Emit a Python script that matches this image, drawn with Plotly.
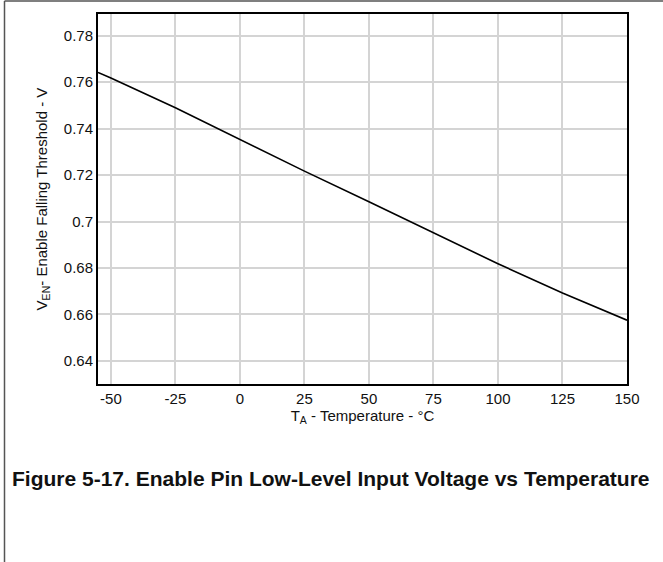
import plotly.graph_objects as go

temps = [-55, -50, -25, 0, 25, 50, 75, 100, 125, 150]
v_en_fall = [0.7642, 0.7618, 0.749, 0.7354, 0.7217, 0.7085, 0.695, 0.6818, 0.6692, 0.6575]

x_ticks = [-50, -25, 0, 25, 50, 75, 100, 125, 150]
x_tick_labels = ["-50", "-25", "0", "25", "50", "75", "100", "125", "150"]
y_ticks = [0.64, 0.66, 0.68, 0.70, 0.72, 0.74, 0.76, 0.78]
y_tick_labels = ["0.64", "0.66", "0.68", "0.7", "0.72", "0.74", "0.76", "0.78"]

W, H = 663, 562
L, R, T, B = 98, 627, 14, 384

def px(x):
    return (x - L) / (R - L)

def py(y):
    return (B - y) / (B - T)

fig = go.Figure()
fig.add_trace(go.Scatter(x=temps, y=v_en_fall, mode="lines",
                         line=dict(color="black", width=1.6), showlegend=False,
                         hoverinfo="skip"))

font_main = "Liberation Sans, Arial, sans-serif"
axis_common = dict(showgrid=True, gridcolor="#d4d4d4", gridwidth=1.5,
                   showline=True, linecolor="black", linewidth=2, mirror=True,
                   ticks="", zeroline=False,
                   tickfont=dict(family=font_main, size=15, color="#111"))

fig.update_xaxes(range=[-55, 150], tickvals=x_ticks, ticktext=x_tick_labels,
                 title=dict(text="T<sub>A</sub> - Temperature - °C", standoff=0,
                            font=dict(family=font_main, size=15, color="#111")),
                 **axis_common)
fig.update_yaxes(range=[0.63, 0.7894], tickvals=y_ticks, ticktext=y_tick_labels,
                 title=dict(text="V<sub>EN</sub>- Enable Falling Threshold - V", standoff=13,
                            font=dict(family=font_main, size=15, color="#111")),
                 **axis_common)

fig.update_layout(width=W, height=H, margin=dict(l=L, r=W - R, t=T, b=H - B),
                  plot_bgcolor="white", paper_bgcolor="white")

# page frame lines
fig.add_shape(type="line", xref="paper", yref="paper", x0=px(4.5), x1=px(663), y0=py(1), y1=py(1),
              line=dict(color="#555", width=1.5))
fig.add_shape(type="line", xref="paper", yref="paper", x0=px(4.5), x1=px(4.5), y0=py(1), y1=py(562),
              line=dict(color="#555", width=1.5))

fig.add_annotation(text="<b>Figure 5-17. Enable Pin Low-Level Input Voltage vs Temperature</b>",
                   xref="paper", yref="paper", x=px(10), y=py(478), xanchor="left", yanchor="middle",
                   showarrow=False,
                   font=dict(family="Liberation Sans Narrow, Arial Narrow, Liberation Sans, sans-serif",
                             size=21, color="#111"))

fig.write_html("out.html", config={"displayModeBar": False},
               post_script="document.body.style.margin='0';")
